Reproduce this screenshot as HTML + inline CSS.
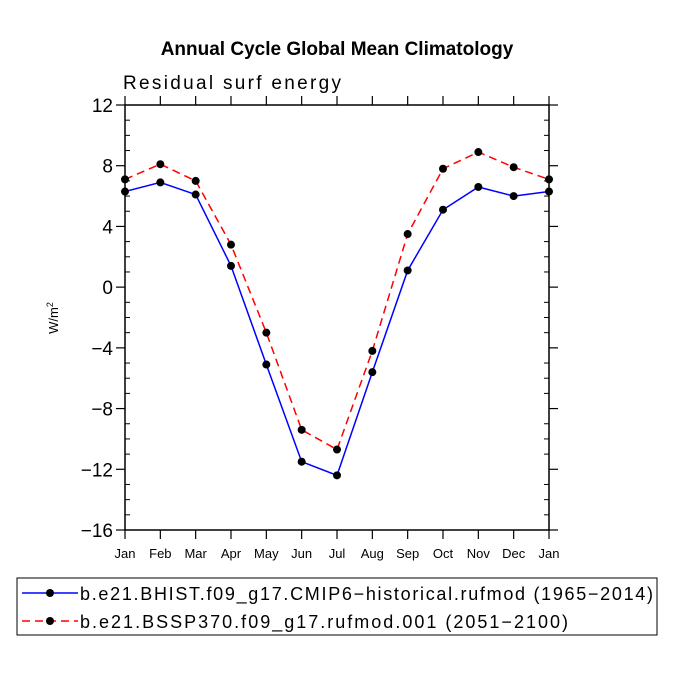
<!DOCTYPE html>
<html><head><meta charset="utf-8"><style>body{margin:0;background:#fff}svg{display:block}</style></head>
<body>
<svg id="chart" width="675" height="675" xmlns="http://www.w3.org/2000/svg" font-family="Liberation Sans, sans-serif">
<rect width="675" height="675" fill="#fff"/>
<text x="337" y="55" text-anchor="middle" font-weight="bold" font-size="19">Annual Cycle Global Mean Climatology</text>
<text x="123" y="89" font-size="19" textLength="218">Residual surf energy</text>
<text transform="translate(58,318) rotate(-90)" text-anchor="middle" font-size="13">W/m<tspan dy="-5" font-size="9">2</tspan></text>
<g id="axes"></g><g id="series"></g>
<rect x="17" y="578" width="640" height="57" fill="none" stroke="#000" stroke-width="1"/>
<line x1="22" y1="593" x2="78" y2="593" stroke="#0000ff" stroke-width="1.5"/>
<circle cx="50" cy="593" r="4"/>
<text x="80" y="600" font-size="18" textLength="573">b.e21.BHIST.f09_g17.CMIP6−historical.rufmod (1965−2014)</text>
<line x1="22" y1="621" x2="78" y2="621" stroke="#ff0000" stroke-width="1.5" stroke-dasharray="8,5"/>
<circle cx="50" cy="621" r="4"/>
<text x="80" y="628" font-size="18" textLength="488">b.e21.BSSP370.f09_g17.rufmod.001 (2051−2100)</text>
</svg>
<script>
const months=["Jan","Feb","Mar","Apr","May","Jun","Jul","Aug","Sep","Oct","Nov","Dec","Jan"];
const histValues=[6.3,6.9,6.1,1.4,-5.1,-11.5,-12.4,-5.6,1.1,5.1,6.6,6.0,6.3];
const sspValues=[7.1,8.1,7.0,2.8,-3.0,-9.4,-10.7,-4.2,3.5,7.8,8.9,7.9,7.1];
const yTicks=[12,8,4,0,-4,-8,-12,-16];
const L=125,R=549,T=105,B=530,ymax=12,ymin=-16;
const xs=i=>L+(R-L)*i/(months.length-1);
const ys=v=>T+(ymax-v)/(ymax-ymin)*(B-T);
const NS="http://www.w3.org/2000/svg";
function mk(p,t,a){const e=document.createElementNS(NS,t);for(const k in a)e.setAttribute(k,a[k]);p.appendChild(e);return e;}
const ax=document.getElementById('axes');
const fr=mk(ax,'rect',{x:L,y:T,width:R-L,height:B-T,fill:'none',stroke:'#000','stroke-width':1.5});


months.forEach((m,i)=>{const x=xs(i);
mk(ax,'line',{x1:x,y1:T,x2:x,y2:T-9,stroke:'#000','stroke-width':1.2});
mk(ax,'line',{x1:x,y1:B,x2:x,y2:B+9,stroke:'#000','stroke-width':1.2});
const t=mk(ax,'text',{x:x,y:B+28,'text-anchor':'middle','font-size':13});t.textContent=m;

});
for(let v=ymin;v<=ymax;v++){const y=ys(v);const maj=(v%4===0);
if(maj){mk(ax,'line',{x1:L,y1:y,x2:L-9,y2:y,stroke:'#000','stroke-width':1.2});mk(ax,'line',{x1:R,y1:y,x2:R+9,y2:y,stroke:'#000','stroke-width':1.2});}
else{mk(ax,'line',{x1:L,y1:y,x2:L+5,y2:y,stroke:'#000','stroke-width':1});mk(ax,'line',{x1:R,y1:y,x2:R-5,y2:y,stroke:'#000','stroke-width':1});}}
yTicks.forEach(v=>{const t=mk(ax,'text',{x:L-12,y:ys(v)+7,'text-anchor':'end','font-size':19});t.textContent=String(v).replace('-','−');

});
const sg=document.getElementById('series');
function draw(vals,color,dash,name){
const pl=mk(sg,'polyline',{points:vals.map((v,i)=>xs(i)+','+ys(v)).join(' '),fill:'none',stroke:color,'stroke-width':1.5,'stroke-dasharray':dash});


vals.forEach((v,i)=>{const c=mk(sg,'circle',{cx:xs(i),cy:ys(v),r:4,fill:'#000'});

});}
draw(histValues,'#0000ff','none','hist');
draw(sspValues,'#ff0000','8,5','ssp');
</script>
</body></html>
